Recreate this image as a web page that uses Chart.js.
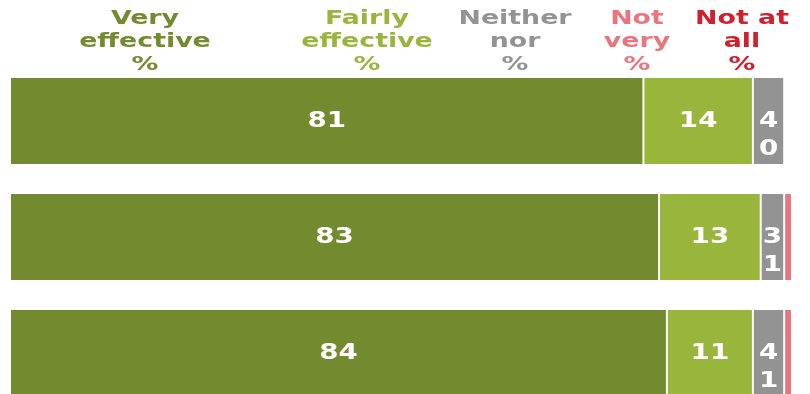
<!DOCTYPE html>
<html>
<head>
<meta charset="utf-8">
<script src="https://cdn.jsdelivr.net/npm/chart.js@4/dist/chart.umd.min.js"></script>
<style>
  html, body { margin: 0; padding: 0; background: #fff; overflow: hidden; }
  #wrap { position: absolute; left: 0; top: 0; width: 810px; height: 420px; }
  .head {
    position: absolute; top: 6px; width: 170px; text-align: center;
    font-family: "DejaVu Sans", Verdana, sans-serif; font-weight: bold;
    font-size: 20px; line-height: 23px;
    transform: scaleX(1.34); transform-origin: center top;
  }
</style>
</head>
<body>
<div id="wrap"><canvas id="chart"></canvas></div>

<script>
// rows (no visible row labels in the picture)
var categories = ['1', '2', '3'];

var seriesNames = ['Very effective %', 'Fairly effective %', 'Neither nor %', 'Not very %', 'Not at all %'];
var veryEffective = [81, 83, 84];
var fairlyEffective = [14, 13, 11];
var neitherNor = [4, 3, 4];
var notVery = [0, 1, 1];
var notAtAll = [0, 0, 0];

var seriesColors = ['#748a2f', '#99b53c', '#939393', '#e8767e', '#d0202e'];
// header column centres (x)
var headCentres = [145, 367, 515, 637, 742];

headCentres.forEach(function (cx, i) {
    var d = document.createElement('div');
    d.className = 'head';
    d.style.left = (cx - 85) + 'px';
    d.style.color = seriesColors[i];
    d.innerHTML = seriesNames[i].replace(/ /g, '<br>').replace('Not<br>at<br>all', 'Not at<br>all');
    document.getElementById('wrap').appendChild(d);
});

var labelFont = 'bold 21px "DejaVu Sans", Verdana, sans-serif';
var stretch = 1.32;

function drawStretched(ctx, text, x, y) {
    ctx.save();
    ctx.translate(x, y);
    ctx.scale(stretch, 1);
    ctx.fillText(text, 0, 0);
    ctx.restore();
}

// white value labels inside the bars
var barLabels = {
    id: 'barLabels',
    afterDatasetsDraw: function (chart) {
        var ctx = chart.ctx;
        ctx.save();
        ctx.font = labelFont;
        ctx.fillStyle = '#ffffff';
        ctx.textAlign = 'center';
        ctx.textBaseline = 'middle';
        [0, 1].forEach(function (di) {
            chart.getDatasetMeta(di).data.forEach(function (bar, i) {
                var p = bar.getProps(['x', 'y', 'base']);
                drawStretched(ctx, chart.data.datasets[di].data[i], (p.x + p.base) / 2, p.y + 1);
            });
        });
        // narrow columns: neither value, with not-very value under it
        chart.getDatasetMeta(2).data.forEach(function (bar, i) {
            var p = bar.getProps(['x', 'y', 'base']);
            var cx = (p.x + p.base) / 2;
            drawStretched(ctx, neitherNor[i], cx, p.y + 1);
            drawStretched(ctx, notVery[i], cx, p.y + 29);
        });
        ctx.restore();
    }
};

var datasets = [veryEffective, fairlyEffective, neitherNor, notVery, notAtAll].map(function (vals, i) {
    return {
        label: seriesNames[i],
        data: vals,
        backgroundColor: seriesColors[i],
        borderColor: 'rgba(255,255,255,0.85)',
        borderWidth: 1,
        borderSkipped: false,
        barPercentage: 0.76,
        categoryPercentage: 1
    };
});

new Chart(document.getElementById('chart'), {
    type: 'bar',
    data: { labels: categories, datasets: datasets },
    options: {
        indexAxis: 'y',
        responsive: true,
        maintainAspectRatio: false,
        animation: false,
        layout: { padding: { top: 63, left: 10, right: 18, bottom: 9 } },
        plugins: {
            legend: { display: false },
            tooltip: { enabled: false }
        },
        scales: {
            x: { stacked: true, min: 0, max: 100, display: false },
            y: { stacked: true, display: false }
        }
    },
    plugins: [barLabels]
});
</script>
</body>
</html>
